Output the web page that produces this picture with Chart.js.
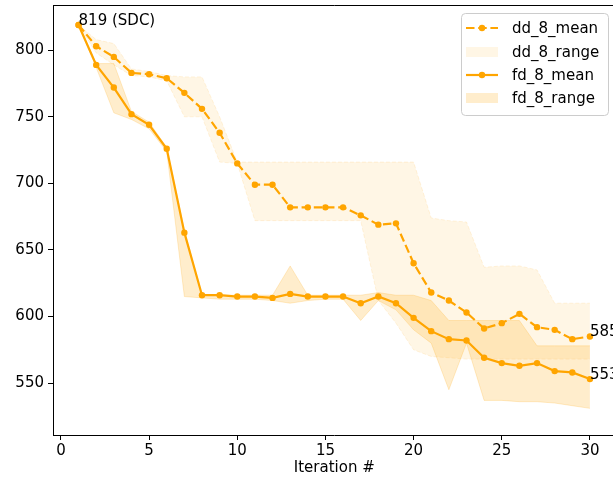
<!DOCTYPE html>
<html>
<head>
<meta charset="utf-8">
<script src="https://cdn.jsdelivr.net/npm/chart.js@4"></script>
<style>
  html, body { margin: 0; padding: 0; background: #fff; overflow: hidden; }
  #wrap { width: 620px; height: 477px; }
</style>
</head>
<body>
<div id="wrap"><canvas id="chart" width="620" height="477"></canvas></div>
<script>
var iterations = [1, 2, 3, 4, 5, 6, 7, 8, 9, 10, 11, 12, 13, 14, 15, 16, 17, 18, 19, 20, 21, 22, 23, 24, 25, 26, 27, 28, 29, 30]

var ddMean = [819, 803, 795, 783, 782, 779, 768, 756, 738, 715, 699, 699, 682, 682, 682, 682, 676, 669, 670, 640, 618, 612, 603, 591, 595, 602, 592, 590, 583, 585]
var ddLow = [819, 798, 789, 781, 780, 777, 750, 750, 716, 715, 672, 672, 672, 672, 672, 672, 672, 612, 595, 575, 570, 569, 568, 568, 568, 568, 568, 568, 568, 568]
var ddHigh = [819, 808, 805, 786, 784, 781, 780, 780, 750, 716, 716, 716, 716, 716, 716, 716, 716, 716, 716, 716, 674, 672, 671, 637, 638, 638, 635, 610, 610, 610]

var fdMean = [819, 789, 772, 752, 744, 726, 663, 616, 616, 615, 615, 614, 617, 615, 615, 615, 610, 615, 610, 599, 589, 583, 582, 569, 565, 563, 565, 559, 558, 553]
var fdLow = [819, 787, 753, 748, 741, 724, 615, 614, 613, 613, 613, 612, 610, 612, 613, 613, 597, 612, 605, 590, 580, 545, 580, 537, 537, 536, 536, 535, 533, 531]
var fdHigh = [819, 790, 790, 754, 746, 727, 665, 616, 616, 616, 616, 616, 638, 616, 616, 616, 616, 618, 616, 616, 612, 597, 597, 597, 597, 597, 578, 578, 578, 578]

var xTicks = [0, 5, 10, 15, 20, 25, 30]
var yTicks = [550, 600, 650, 700, 750, 800]

var ORANGE = '#ffa500'
var FONT = 'DejaVu Sans'
var DASH = [8.5, 3.7]

function pts(ys) {
    return iterations.map(function (x, i) { return { x: x, y: ys[i] } })
}

var last = iterations.length - 1
var notes = [
    { x: iterations[0], y: ddMean[0], text: ddMean[0] + ' (SDC)' },
    { x: iterations[last], y: ddMean[last], text: String(ddMean[last]) },
    { x: iterations[last], y: fdMean[last], text: String(fdMean[last]) }
]

// top/right spines, value labels and the boxed legend
var extras = {
    id: 'extras',
    afterDatasetsDraw: function (chart) {
        var ctx = chart.ctx
        var a = chart.chartArea
        var sx = chart.scales.x
        var sy = chart.scales.y
        ctx.save()
        ctx.strokeStyle = '#000'
        ctx.lineWidth = 1
        ctx.beginPath()
        ctx.moveTo(a.left, a.top + 0.5)
        ctx.lineTo(a.right, a.top + 0.5)
        ctx.lineTo(a.right, a.bottom)
        ctx.stroke()

        ctx.fillStyle = '#000'
        ctx.font = '15px "' + FONT + '"'
        ctx.textAlign = 'left'
        ctx.textBaseline = 'alphabetic'
        notes.forEach(function (n) {
            ctx.fillText(n.text, sx.getPixelForValue(n.x), sy.getPixelForValue(n.y))
        })
        ctx.restore()
    },
    afterDraw: function (chart) {
        var ctx = chart.ctx
        var bx = 461, by = 13, bw = 147, bh = 102
        ctx.save()
        ctx.beginPath()
        ctx.roundRect(bx + 0.5, by + 0.5, bw, bh, 4)
        ctx.fillStyle = 'rgba(255,255,255,0.8)'
        ctx.fill()
        ctx.strokeStyle = '#cccccc'
        ctx.lineWidth = 1
        ctx.stroke()

        var items = [
            { label: 'dd_8_mean', kind: 'line', dash: DASH },
            { label: 'dd_8_range', kind: 'fill', alpha: 0.1 },
            { label: 'fd_8_mean', kind: 'line', dash: [] },
            { label: 'fd_8_range', kind: 'fill', alpha: 0.2 }
        ]
        var rows = [28, 52, 75, 98]
        var h0 = 466, h1 = 498
        items.forEach(function (it, i) {
            var y = rows[i]
            if (it.kind === 'line') {
                ctx.strokeStyle = ORANGE
                ctx.lineWidth = 2.2
                ctx.setLineDash(it.dash)
                ctx.beginPath()
                ctx.moveTo(h0, y)
                ctx.lineTo(h1, y)
                ctx.stroke()
                ctx.setLineDash([])
                ctx.fillStyle = ORANGE
                ctx.beginPath()
                ctx.arc((h0 + h1) / 2, y, 3.2, 0, Math.PI * 2)
                ctx.fill()
            } else {
                ctx.fillStyle = 'rgba(255,165,0,' + it.alpha + ')'
                ctx.fillRect(h0, y - 5, h1 - h0, 10)
            }
            ctx.fillStyle = '#000'
            ctx.font = '15px "' + FONT + '"'
            ctx.textAlign = 'left'
            ctx.textBaseline = 'middle'
            ctx.fillText(it.label, 512, y + 1)
        })
        ctx.restore()
    }
}

var tickFont = { family: FONT, size: 15 }

new Chart(document.getElementById('chart'), {
    type: 'line',
    data: {
        datasets: [
            {
                label: 'dd_8_mean', data: pts(ddMean),
                borderColor: ORANGE, backgroundColor: ORANGE, borderWidth: 2.2,
                borderDash: DASH, pointRadius: 3.2, pointBorderWidth: 0, fill: false
            },
            {
                label: 'fd_8_mean', data: pts(fdMean),
                borderColor: ORANGE, backgroundColor: ORANGE, borderWidth: 2.2,
                pointRadius: 3.2, pointBorderWidth: 0, fill: false
            },
            {
                label: 'dd_8_high', data: pts(ddHigh),
                borderColor: 'rgba(255,165,0,0.12)', borderWidth: 1, borderDash: [4, 2],
                pointRadius: 0, fill: false
            },
            {
                label: 'dd_8_range', data: pts(ddLow),
                borderColor: 'rgba(255,165,0,0.12)', borderWidth: 1, borderDash: [4, 2],
                backgroundColor: 'rgba(255,165,0,0.1)', pointRadius: 0, fill: 2
            },
            {
                label: 'fd_8_high', data: pts(fdHigh),
                borderColor: 'rgba(255,165,0,0.2)', borderWidth: 1,
                pointRadius: 0, fill: false
            },
            {
                label: 'fd_8_range', data: pts(fdLow),
                borderColor: 'rgba(255,165,0,0.2)', borderWidth: 1,
                backgroundColor: 'rgba(255,165,0,0.2)', pointRadius: 0, fill: 4
            }
        ]
    },
    options: {
        responsive: false,
        animation: false,
        devicePixelRatio: 1,
        layout: { padding: { top: 5, right: 4.5, left: 0, bottom: 0 } },
        elements: { line: { tension: 0 } },
        plugins: {
            legend: { display: false },
            tooltip: { enabled: false }
        },
        scales: {
            x: {
                type: 'linear',
                min: -0.45,
                max: 31.45,
                afterBuildTicks: function (s) { s.ticks = xTicks.map(function (v) { return { value: v } }) },
                afterFit: function (s) {
                    s.height = 42
                    s.paddingLeft = 0
                    s.paddingRight = 0
                },
                ticks: { color: '#000', font: tickFont, padding: 2, maxRotation: 0, autoSkip: false },
                grid: { drawOnChartArea: false, drawTicks: true, tickLength: 5, color: '#000' },
                border: { color: '#000', width: 1 },
                title: { display: true, text: 'Iteration #', color: '#000', font: tickFont, padding: { top: 0, bottom: 0 } }
            },
            y: {
                min: 511,
                max: 834,
                afterBuildTicks: function (s) { s.ticks = yTicks.map(function (v) { return { value: v } }) },
                afterFit: function (s) {
                    s.width = 53
                    s.paddingTop = 0
                    s.paddingBottom = 0
                },
                ticks: { color: '#000', font: tickFont, padding: 4, autoSkip: false },
                grid: { drawOnChartArea: false, drawTicks: true, tickLength: 5, color: '#000' },
                border: { color: '#000', width: 1 }
            }
        }
    },
    plugins: [extras]
})
</script>
</body>
</html>
